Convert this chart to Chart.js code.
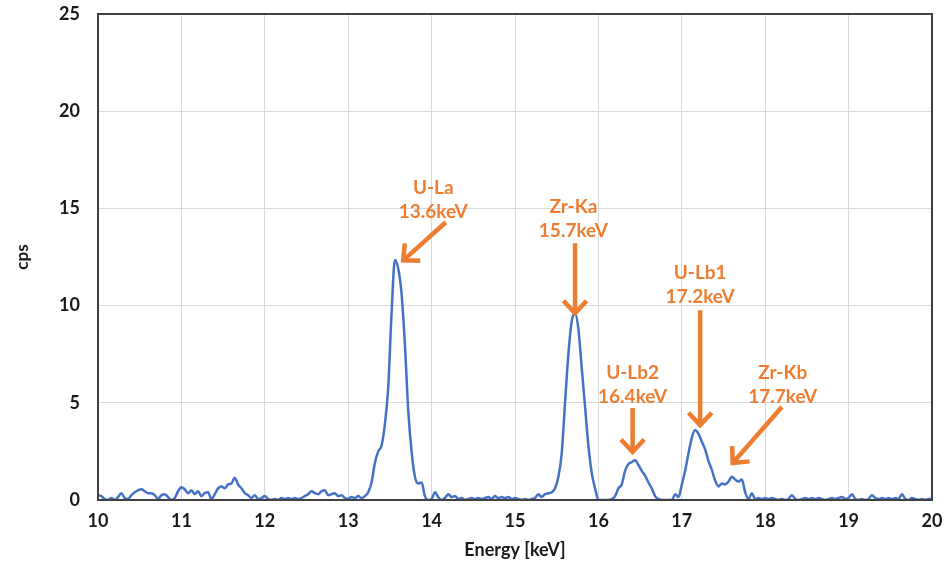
<!DOCTYPE html>
<html>
<head>
<meta charset="utf-8">
<title>XRF spectrum</title>
<script src="https://cdn.jsdelivr.net/npm/chart.js@4.4.1/dist/chart.umd.min.js"></script>
<style>
  html, body { margin: 0; padding: 0; background: #fff; }
  #wrap { position: relative; width: 951px; height: 563px; }
</style>
</head>
<body>
<div id="wrap"><canvas id="spectrum"></canvas></div>
<script>
// Spectrum channels: 10 - 20 keV, 0.04 keV per channel
const channelStart = 10
const channelStep = 0.04

// counts per second, one row per keV (25 channels each), last value is 20.00 keV
const cps = [
  0.25, 0.2, 0.05, 0.0, 0.1, 0.0, 0.15, 0.35, 0.1, 0.05, 0.25, 0.4, 0.5, 0.55, 0.45, 0.35, 0.35, 0.25, 0.05, 0.25, 0.3, 0.15, 0.0, 0.1, 0.45,
  0.65, 0.55, 0.35, 0.5, 0.3, 0.45, 0.2, 0.35, 0.4, 0.05, 0.3, 0.6, 0.7, 0.6, 0.8, 0.85, 1.15, 0.8, 0.6, 0.35, 0.25, 0.1, 0.25, 0.05, 0.1,
  0.2, 0.05, 0.0, 0.05, 0.0, 0.1, 0.05, 0.1, 0.05, 0.1, 0.05, 0.1, 0.2, 0.3, 0.45, 0.35, 0.3, 0.45, 0.5, 0.25, 0.3, 0.35, 0.2, 0.25, 0.1,
  0.05, 0.15, 0.1, 0.2, 0.1, 0.2, 0.4, 0.9, 1.9, 2.5, 2.8, 3.9, 5.8, 9.6, 12.35, 11.9, 10.6, 8.0, 4.6, 2.5, 1.2, 0.85, 0.9, 0.2, 0.0,
  0.05, 0.4, 0.15, 0.0, 0.1, 0.3, 0.15, 0.2, 0.05, 0.1, 0.0, 0.05, 0.1, 0.05, 0.1, 0.05, 0.1, 0.15, 0.05, 0.2, 0.1, 0.15, 0.1, 0.15, 0.05,
  0.1, 0.05, 0.0, 0.05, 0.0, 0.05, 0.1, 0.3, 0.15, 0.3, 0.35, 0.4, 0.6, 1.2, 2.4, 5.0, 7.5, 9.2, 9.6, 8.8, 6.8, 4.8, 2.8, 1.4, 0.6,
  0.0, 0.0, 0.0, 0.0, 0.05, 0.2, 0.6, 0.8, 1.5, 1.85, 1.95, 2.05, 1.8, 1.5, 1.25, 0.9, 0.6, 0.2, 0.05, 0.0, 0.0, 0.0, 0.0, 0.3, 0.15,
  0.8, 1.5, 2.4, 3.2, 3.6, 3.4, 3.0, 2.6, 2.0, 1.55, 1.0, 0.7, 0.85, 0.8, 0.95, 1.2, 1.05, 0.95, 1.05, 0.4, 0.05, 0.35, 0.05, 0.1, 0.05,
  0.1, 0.05, 0.1, 0.05, 0.0, 0.05, 0.0, 0.05, 0.25, 0.05, 0.0, 0.05, 0.1, 0.05, 0.1, 0.05, 0.1, 0.05, 0.0, 0.05, 0.1, 0.05, 0.1, 0.15, 0.05,
  0.1, 0.3, 0.05, 0.0, 0.05, 0.0, 0.05, 0.25, 0.1, 0.05, 0.1, 0.05, 0.1, 0.05, 0.1, 0.05, 0.3, 0.05, 0.0, 0.1, 0.05, 0.0, 0.05, 0.0, 0.05,
  0.05
]

// axis ticks
const energyTicks = [10, 11, 12, 13, 14, 15, 16, 17, 18, 19, 20]
const cpsTicks = [0, 5, 10, 15, 20, 25]

// peak callouts: name, line energy, arrow tip/tail and label anchor in axis units
const peakNames = ["U-La", "Zr-Ka", "U-Lb2", "U-Lb1", "Zr-Kb"]
const peakEnergies = ["13.6keV", "15.7keV", "16.4keV", "17.2keV", "17.7keV"]
const arrowTips = [[13.66, 12.33], [15.72, 9.61], [16.41, 2.47], [17.22, 3.85], [17.61, 1.90]]
const arrowTails = [[14.17, 14.29], [15.72, 13.21], [16.41, 4.73], [17.22, 9.76], [18.20, 4.78]]
const labelAnchors = [[14.02, 16.08], [15.70, 15.06], [16.41, 6.53], [17.22, 11.66], [18.21, 6.53]]

const ORANGE = "#ED7D31"
const BLUE = "#4472C4"
const FONT = "Lato"

const points = cps.map((v, i) => ({ x: +(channelStart + i * channelStep).toFixed(2), y: v }))

// dark frame around the plot area
const framePlugin = {
  id: "frame",
  afterDatasetsDraw(chart) {
    const { ctx, chartArea: a } = chart
    ctx.save()
    ctx.strokeStyle = "#404040"
    ctx.lineWidth = 2
    ctx.strokeRect(a.left, a.top, a.right - a.left, a.bottom - a.top)
    ctx.restore()
  }
}

// orange arrows + two-line labels for each peak
const calloutPlugin = {
  id: "callouts",
  afterDraw(chart) {
    const { ctx, scales: { x, y } } = chart
    ctx.save()
    ctx.strokeStyle = ORANGE
    ctx.fillStyle = ORANGE
    ctx.lineWidth = 4.5
    ctx.lineCap = "butt"
    ctx.lineJoin = "miter"
    peakNames.forEach((name, i) => {
      const tx = x.getPixelForValue(arrowTips[i][0])
      const ty = y.getPixelForValue(arrowTips[i][1])
      const sx = x.getPixelForValue(arrowTails[i][0])
      const sy = y.getPixelForValue(arrowTails[i][1])
      const ang = Math.atan2(ty - sy, tx - sx)
      ctx.beginPath()
      ctx.moveTo(sx, sy)
      ctx.lineTo(tx - 3 * Math.cos(ang), ty - 3 * Math.sin(ang))
      ctx.stroke()
      const head = 17
      ctx.beginPath()
      ctx.moveTo(tx - head * Math.cos(ang - 0.75), ty - head * Math.sin(ang - 0.75))
      ctx.lineTo(tx, ty)
      ctx.lineTo(tx - head * Math.cos(ang + 0.75), ty - head * Math.sin(ang + 0.75))
      ctx.stroke()

      const lx = x.getPixelForValue(labelAnchors[i][0])
      const ly = y.getPixelForValue(labelAnchors[i][1])
      ctx.font = "bold 19px " + FONT
      ctx.textAlign = "center"
      ctx.textBaseline = "middle"
      ctx.fillText(name, lx, ly)
      ctx.fillText(peakEnergies[i], lx, ly + 24)
    })
    ctx.restore()
  }
}

new Chart(document.getElementById("spectrum"), {
  type: "line",
  data: {
    datasets: [{
      label: "cps",
      data: points,
      borderColor: BLUE,
      borderWidth: 2.5,
      pointRadius: 0,
      fill: false,
      cubicInterpolationMode: "monotone"
    }]
  },
  options: {
    responsive: true,
    maintainAspectRatio: false,
    animation: false,
    layout: { padding: { left: 12, top: 14, right: 19, bottom: 2 } },
    plugins: {
      legend: { display: false },
      tooltip: { enabled: false }
    },
    scales: {
      x: {
        type: "linear",
        min: energyTicks[0],
        max: energyTicks[energyTicks.length - 1],
        afterBuildTicks: (axis) => { axis.ticks = energyTicks.map(v => ({ value: v })) },
        afterFit: (axis) => { axis.height = 61; axis.paddingLeft = 0; axis.paddingRight = 0 },
        grid: { color: "#d9d9d9", lineWidth: 1, drawTicks: false },
        border: { display: false },
        ticks: {
          padding: 10,
          color: "#1a1a1a",
          font: { family: FONT, size: 18, weight: "bold" }
        },
        title: {
          display: true,
          text: "Energy [keV]",
          color: "#1a1a1a",
          padding: 0,
          font: { family: FONT, size: 18, weight: "bold" }
        }
      },
      y: {
        min: cpsTicks[0],
        max: cpsTicks[cpsTicks.length - 1],
        afterBuildTicks: (axis) => { axis.ticks = cpsTicks.map(v => ({ value: v })) },
        afterFit: (axis) => { axis.width = 86; axis.paddingTop = 0; axis.paddingBottom = 0 },
        grid: { color: "#d9d9d9", lineWidth: 1, drawTicks: false },
        border: { display: false },
        ticks: {
          padding: 18,
          color: "#1a1a1a",
          font: { family: FONT, size: 18, weight: "bold" }
        },
        title: {
          display: true,
          text: "cps",
          color: "#1a1a1a",
          padding: 0,
          font: { family: FONT, size: 17, weight: "bold" }
        }
      }
    }
  },
  plugins: [framePlugin, calloutPlugin]
})
</script>
</body>
</html>
